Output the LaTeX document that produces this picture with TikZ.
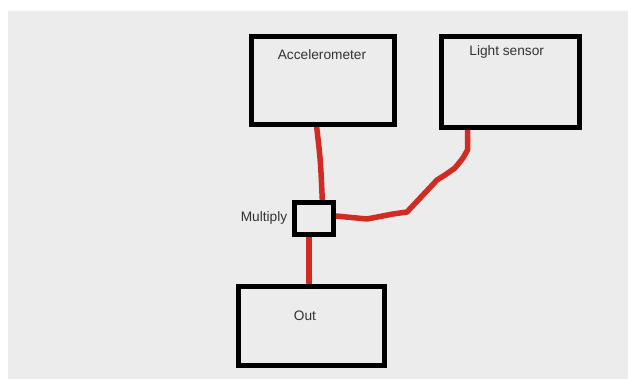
\documentclass[tikz,border=0pt]{standalone}
\usepackage{fontspec}
\setmainfont{Liberation Sans}
\usetikzlibrary{backgrounds}
\definecolor{paper}{HTML}{ECECEC}
\definecolor{wirered}{HTML}{D22B22}
\definecolor{ink}{HTML}{333333}
\tikzset{
  box/.style={draw=black, line width=5pt, rectangle, inner sep=0pt},
  wire/.style={draw=wirered, line width=5.5pt, line join=round, line cap=round},
  lbl/.style={inner sep=0pt, anchor=base, text=ink, font=\fontsize{13.7}{16}\selectfont}
}
\begin{document}
\begin{tikzpicture}[x=1pt, y=-1pt]
  \useasboundingbox (0,0) rectangle (628,379);

  % blocks
  \node[box, minimum width=143pt, minimum height=88pt]   (acc)   at (322.5,81)  {};
  \node[box, minimum width=138pt, minimum height=91pt]   (light) at (510.5,82)  {};
  \node[box, minimum width=39pt,  minimum height=32pt]   (mul)   at (314,218.5) {};
  \node[box, minimum width=145.5pt, minimum height=79pt] (out)   at (311.3,326) {};

  % block titles
  \node[lbl] (accT)   at (322,59.3)  {Accelerometer};
  \node[lbl] (lightT) at (506.7,56)  {Light sensor};
  \node[lbl] (mulT)   at (264,221.7) {Multiply};
  \node[lbl] (outT)   at (305,320.7) {Out};

  \begin{scope}[on background layer]
    \fill[white] (0,0) rectangle (628,379);
    \fill[paper] (8,11) rectangle (628,379);
    % hand-drawn connections
    \draw[wire] ([xshift=-5.8pt]acc.south) .. controls (320.5,160) .. ([xshift=8.3pt]mul.north);
    \draw[wire] ([xshift=-43pt]light.south) -- (467.5,150) -- (463,158) -- (455,168)
      -- (445,175) -- (437,180) -- (407,212) -- (393,214) -- (367,219)
      -- ([yshift=2.5pt]mul.east);
    \draw[wire] ([xshift=-5pt]mul.south) -- ([xshift=-2.3pt]out.north);
  \end{scope}
\end{tikzpicture}
\end{document}
